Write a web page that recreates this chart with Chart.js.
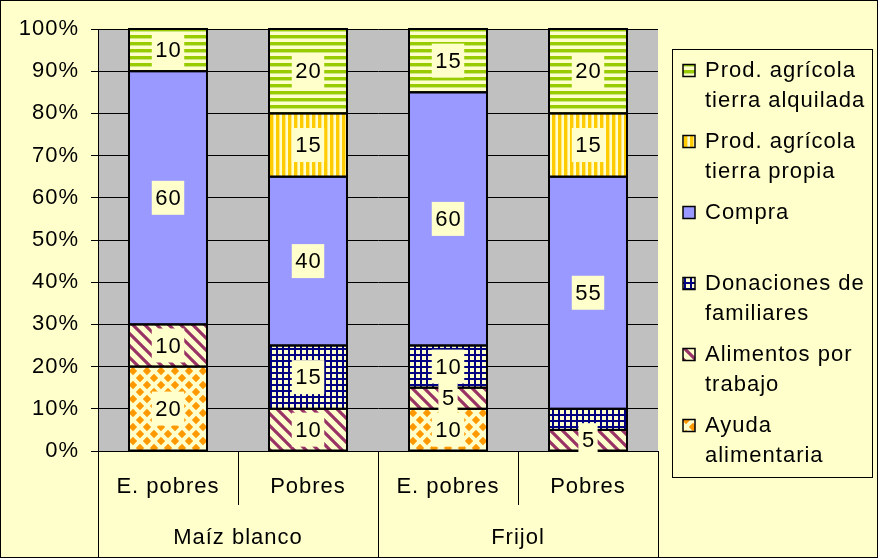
<!DOCTYPE html>
<html>
<head>
<meta charset="utf-8">
<script src="https://cdn.jsdelivr.net/npm/chart.js@4.4.1/dist/chart.umd.min.js"></script>
<style>
  html, body { margin: 0; padding: 0; background: #FFFFCC; }
  canvas { display: block; }
</style>
</head>
<body>
<canvas id="chart" width="878" height="558"></canvas>
<script>
// Data
const groups = ['Maíz blanco', 'Frijol'];
const categories = ['E. pobres', 'Pobres', 'E. pobres', 'Pobres'];
const ayudaAlimentaria = [20, 0, 10, 0];
const alimentosPorTrabajo = [10, 10, 5, 5];
const donacionesFamiliares = [0, 15, 10, 5];
const compra = [60, 40, 60, 55];
const tierraPropia = [0, 15, 0, 15];
const tierraAlquilada = [10, 20, 15, 20];
// labels that the original leaves out: [dataset, index]
const hiddenLabels = [[2, 3]];

const FONT = '22px "Liberation Sans", Arial, sans-serif';
const LIGHT = '#FFFFCC';
const canvas = document.getElementById('chart');
const ctx = canvas.getContext('2d');

// Fill patterns
function makePattern(w, h, draw) {
    const c = document.createElement('canvas');
    c.width = w; c.height = h;
    const g = c.getContext('2d');
    g.fillStyle = LIGHT;
    g.fillRect(0, 0, w, h);
    draw(g);
    return ctx.createPattern(c, 'repeat');
}

const diamonds = makePattern(14, 14, g => {
    g.fillStyle = '#FF9900';
    const dia = (cx, cy, r) => {
        g.beginPath();
        g.moveTo(cx, cy - r); g.lineTo(cx + r, cy); g.lineTo(cx, cy + r); g.lineTo(cx - r, cy);
        g.closePath(); g.fill();
    };
    [[0, 0], [14, 0], [0, 14], [14, 14], [7, 7]].forEach(p => dia(p[0], p[1], 4.2));
});
const diagonal = makePattern(12, 12, g => {
    g.strokeStyle = '#993366';
    g.lineWidth = 3.2;
    g.beginPath();
    for (let k = -1; k <= 1; k++) {
        g.moveTo(k * 12 - 2, -2);
        g.lineTo(k * 12 + 14, 14);
    }
    g.stroke();
});
const gridPat = makePattern(6, 6, g => {
    g.fillStyle = '#000080';
    g.fillRect(0, 0, 6, 2);
    g.fillRect(0, 0, 2, 6);
});
const vertical = makePattern(6, 1, g => {
    g.fillStyle = '#FFCC00';
    g.fillRect(0, 0, 3, 1);
    g.fillStyle = '#FFE680';
    g.fillRect(3, 0, 1, 1);
});
const horizontal = makePattern(1, 7, g => {
    g.fillStyle = '#99CC00';
    g.fillRect(0, 0, 1, 3);
    g.fillStyle = '#CCE680';
    g.fillRect(0, 3, 1, 1);
});

const datasets = [
    { label: ['Ayuda', 'alimentaria'], data: ayudaAlimentaria, backgroundColor: diamonds },
    { label: ['Alimentos por', 'trabajo'], data: alimentosPorTrabajo, backgroundColor: diagonal },
    { label: ['Donaciones de', 'familiares'], data: donacionesFamiliares, backgroundColor: gridPat },
    { label: ['Compra'], data: compra, backgroundColor: '#9999FF' },
    { label: ['Prod. agrícola', 'tierra propia'], data: tierraPropia, backgroundColor: vertical },
    { label: ['Prod. agrícola', 'tierra alquilada'], data: tierraAlquilada, backgroundColor: horizontal }
].map(d => Object.assign(d, { borderWidth: 0, categoryPercentage: 1, barPercentage: 0.557 }));

const chartStyle = {
    id: 'chartStyle',
    beforeDraw(chart) {
        const c = chart.ctx;
        c.letterSpacing = '1px';
        const a = chart.chartArea;
        c.save();
        c.fillStyle = LIGHT;
        c.fillRect(0, 0, chart.width, chart.height);
        c.fillStyle = '#C0C0C0';
        c.fillRect(a.left, a.top, a.right - a.left, a.bottom - a.top);
        c.restore();
    },
    afterDatasetsDraw(chart) {
        const c = chart.ctx;
        c.save();
        // segment outlines
        c.strokeStyle = '#000';
        c.lineWidth = 2;
        chart.data.datasets.forEach((ds, i) => {
            chart.getDatasetMeta(i).data.forEach((el, j) => {
                if (!ds.data[j]) return;
                const p = el.getProps(['x', 'y', 'base', 'width'], true);
                c.strokeRect(p.x - p.width / 2, p.y, p.width, p.base - p.y);
            });
        });
        // value labels
        c.font = FONT;
        c.textAlign = 'center';
        c.textBaseline = 'middle';
        chart.data.datasets.forEach((ds, i) => {
            chart.getDatasetMeta(i).data.forEach((el, j) => {
                const v = ds.data[j];
                if (!v || hiddenLabels.some(h => h[0] === i && h[1] === j)) return;
                const p = el.getProps(['x', 'y', 'base'], true);
                const cy = (p.y + p.base) / 2;
                const txt = String(v);
                const w = c.measureText(txt).width + 6;
                c.fillStyle = LIGHT;
                c.fillRect(p.x - w / 2, cy - 17, w, 34);
                c.fillStyle = '#000';
                c.fillText(txt, p.x + 0.5, cy + 1);
            });
        });
        c.restore();
    },
    afterDraw(chart) {
        const c = chart.ctx;
        const a = chart.chartArea;
        const x = chart.scales.x;
        const n = categories.length;
        const step = (a.right - a.left) / n;
        c.save();
        c.strokeStyle = '#000';
        c.lineWidth = 1;
        c.font = FONT;
        c.fillStyle = '#000';
        c.textAlign = 'center';
        c.textBaseline = 'middle';
        // category separators
        for (let i = 0; i <= n; i++) {
            const bx = Math.round(x.getPixelForValue(0) - step / 2 + i * step) + 0.5;
            c.beginPath();
            c.moveTo(bx, a.bottom);
            c.lineTo(bx, i % 2 === 0 ? chart.height : a.bottom + 54);
            c.stroke();
        }
        categories.forEach((lab, i) => c.fillText(lab, x.getPixelForValue(i), a.bottom + 36));
        groups.forEach((g, k) => {
            const gx = (x.getPixelForValue(2 * k) + x.getPixelForValue(2 * k + 1)) / 2;
            c.fillText(g, gx, a.bottom + 87);
        });

        // legend
        const lx = 672.5, ly = 49.5;
        c.strokeRect(lx, ly, 200, 428);
        c.textAlign = 'left';
        const items = chart.data.datasets.slice().reverse();
        items.forEach((ds, k) => {
            const y0 = 70.5 + k * 71;
            c.fillStyle = ds.backgroundColor;
            c.fillRect(683, y0 - 6, 12, 12);
            c.lineWidth = 1.5;
            c.strokeRect(683, y0 - 6, 12, 12);
            c.fillStyle = '#000';
            ds.label.forEach((line, m) => c.fillText(line, 705, y0 + m * 30.5));
        });

        // outer frame
        c.lineWidth = 1;
        c.strokeRect(0.5, 0.5, chart.width - 1, chart.height - 1);
        c.restore();
    }
};

new Chart(canvas, {
    type: 'bar',
    data: { labels: categories, datasets },
    options: {
        responsive: false,
        animation: false,
        layout: { padding: { top: 29, right: 220, bottom: 107, left: 0 } },
        plugins: { legend: { display: false }, tooltip: { enabled: false } },
        scales: {
            x: { stacked: true, display: false },
            y: {
                stacked: true,
                min: 0,
                max: 100,
                afterFit: s => { s.width = 98; },
                ticks: {
                    stepSize: 10,
                    padding: 12,
                    color: '#000',
                    font: { family: '"Liberation Sans", Arial, sans-serif', size: 22 },
                    callback: v => v + '%'
                },
                grid: { color: '#000', tickLength: 7, tickColor: '#000' },
                border: { color: '#000', width: 1 }
            }
        }
    },
    plugins: [chartStyle]
});
</script>
</body>
</html>
